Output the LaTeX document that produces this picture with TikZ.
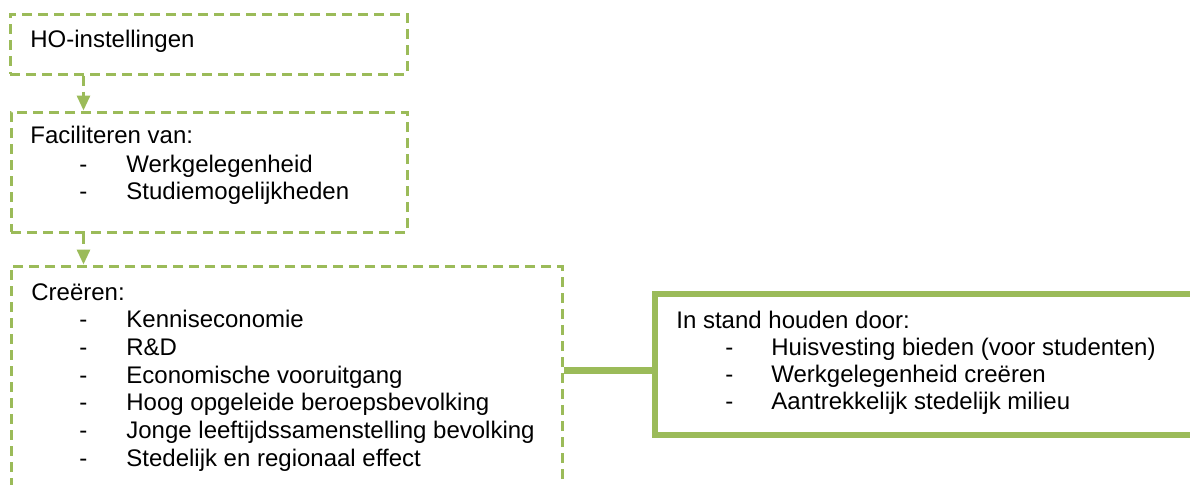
\documentclass[tikz,border=0pt]{standalone}
\usepackage{fontspec}
\setmainfont{Liberation Sans}
\usetikzlibrary{arrows.meta}
\definecolor{olive}{HTML}{9BBB59}
\begin{document}
\begin{tikzpicture}[x=0.5pt,y=-0.5pt,
  dashbox/.style={draw=olive,line width=1.5pt,dash pattern=on 5pt off 3pt,rectangle,inner sep=0pt},
  solidbox/.style={draw=olive,line width=3.2pt,rectangle,inner sep=0pt},
  flow/.style={draw=olive,line width=1.5pt,dash pattern=on 5pt off 3pt,-{Triangle[length=7.5pt,width=6.5pt]}},
  link/.style={draw=olive,line width=3.2pt},
  txt/.style={anchor=base west,inner sep=0pt,font=\fontsize{12}{14}\selectfont}]
\useasboundingbox (0,0) rectangle (1190,484);
\clip (0,0) rectangle (1190,484);
% boxes
\node[dashbox,minimum width=198.5pt,minimum height=30pt] (b1) at (208.5,44) {};
\node[dashbox,minimum width=198pt,minimum height=60pt] (b2) at (209,172) {};
\node[dashbox,minimum width=275.5pt,minimum height=127pt] (b3) at (286.5,393) {};
\node[solidbox,minimum width=282.5pt,minimum height=70.5pt] (b4) at (937.5,364.5) {};
% connectors
\draw[flow] ([xshift=37.5pt]b1.south west) -- ([xshift=37pt]b2.north west);
\draw[flow] ([xshift=37pt]b2.south west) -- ([xshift=37pt]b3.north west);
\coordinate (c) at (600,370.5);
\draw[link] (b3.east |- c) -- (b4.west |- c);
% texts
\node[txt] (t1) at (30,47) {HO-instellingen};
\node[txt] (t2) at (30,143) {Faciliteren van:};
\node[txt] (t2d1) at (79,172) {-};
\node[txt] (t2i1) at (126,172) {Werkgelegenheid};
\node[txt] (t2d2) at (79,199) {-};
\node[txt] (t2i2) at (126,199) {Studiemogelijkheden};
\node[txt] (t3) at (31,300) {Creëren:};
\node[txt] (t3d1) at (79,327.5) {-};
\node[txt] (t3i1) at (126,327.5) {Kenniseconomie};
\node[txt] (t3d2) at (79,355.3) {-};
\node[txt] (t3i2) at (126,355.3) {R\&D};
\node[txt] (t3d3) at (79,383.1) {-};
\node[txt] (t3i3) at (126,383.1) {Economische vooruitgang};
\node[txt] (t3d4) at (79,410.9) {-};
\node[txt] (t3i4) at (126,410.9) {Hoog opgeleide beroepsbevolking};
\node[txt] (t3d5) at (79,438.7) {-};
\node[txt] (t3i5) at (126,438.7) {Jonge leeftijdssamenstelling bevolking};
\node[txt] (t3d6) at (79,466.5) {-};
\node[txt] (t3i6) at (126,466.5) {Stedelijk en regionaal effect};
\node[txt] (t4) at (676,328) {In stand houden door:};
\node[txt] (t4d1) at (725,355) {-};
\node[txt] (t4i1) at (771,355) {Huisvesting bieden (voor studenten)};
\node[txt] (t4d2) at (725,382) {-};
\node[txt] (t4i2) at (771,382) {Werkgelegenheid creëren};
\node[txt] (t4d3) at (725,409) {-};
\node[txt] (t4i3) at (771,409) {Aantrekkelijk stedelijk milieu};
\end{tikzpicture}
\end{document}
